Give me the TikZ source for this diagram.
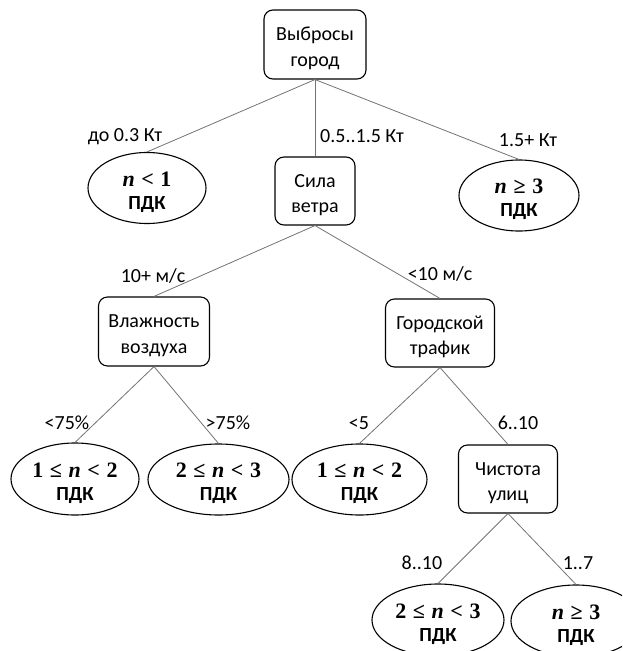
\documentclass[tikz,border=0pt]{standalone}
\usepackage{fontspec}
\setmainfont{Carlito}
\newfontfamily\mathlikefont{Liberation Serif}
\usetikzlibrary{shapes.geometric}
\newcommand{\rsp}{\hspace{0.3em}}
\newcommand{\mth}[1]{{\fontsize{22}{23}\selectfont\mathlikefont\bfseries #1}}
\newcommand{\vn}{\textit{n}}
\begin{document}
\begin{tikzpicture}[x=1pt,y=-1pt,
  box/.style={draw=black, line width=1.1pt, rounded corners=9pt, inner sep=0pt},
  boxtext/.style={align=center, inner sep=0pt, font=\fontsize{20}{25.5}\selectfont, yshift=-4pt},
  leaf/.style={ellipse, draw=black, line width=1.1pt, inner sep=0pt},
  leaftext/.style={align=center, inner sep=0pt, font=\fontsize{20}{23}\selectfont\bfseries, yshift=-4pt},
  conn/.style={draw=black!55, line width=0.8pt},
  lbl/.style={font=\fontsize{20}{24}\selectfont, inner sep=0pt}]
\useasboundingbox (0,0) rectangle (622,651);
\clip (0,0) rectangle (622,651);
% shapes
\node[box, minimum width=102pt, minimum height=69pt] (root) at (315,44.5) {};
\node[leaf, minimum width=118pt, minimum height=71pt] (a) at (147,188) {};
\node[box, minimum width=80pt, minimum height=68pt] (wind) at (315,191) {};
\node[leaf, minimum width=120pt, minimum height=71pt] (c) at (519,195.5) {};
\node[box, minimum width=111pt, minimum height=69pt] (hum) at (154,331.5) {};
\node[box, minimum width=109pt, minimum height=68pt] (traf) at (440,333) {};
\node[leaf, minimum width=128pt, minimum height=72pt] (e1) at (75,479) {};
\node[leaf, minimum width=141pt, minimum height=71pt] (e2) at (218.5,479.5) {};
\node[leaf, minimum width=135pt, minimum height=71pt] (e3) at (359.5,479.5) {};
\node[box, minimum width=99pt, minimum height=68pt] (clean) at (508,479) {};
\node[leaf, minimum width=132pt, minimum height=72pt] (e4) at (438,620) {};
\node[leaf, minimum width=130pt, minimum height=72pt] (e5) at (576,621) {};
% texts
\node[boxtext] (roott) at (root.center) {Выбросы\\город};
\node[boxtext] (windt) at (wind.center) {Сила\\ветра};
\node[boxtext] (humt) at (hum.center) {Влажность\\воздуха};
\node[boxtext] (traft) at (traf.center) {Городской\\трафик};
\node[boxtext] (cleant) at (clean.center) {Чистота\\улиц};
\node[leaftext] (at) at (a.center) {\mth{\vn\rsp<\rsp1}\\ПДК};
\node[leaftext] (ct) at (c.center) {\mth{\vn\rsp≥\rsp3}\\ПДК};
\node[leaftext] (e1t) at (e1.center) {\mth{1\rsp≤\rsp\vn\rsp<\rsp2}\\ПДК};
\node[leaftext] (e2t) at (e2.center) {\mth{2\rsp≤\rsp\vn\rsp<\rsp3}\\ПДК};
\node[leaftext] (e3t) at (e3.center) {\mth{1\rsp≤\rsp\vn\rsp<\rsp2}\\ПДК};
\node[leaftext] (e4t) at (e4.center) {\mth{2\rsp≤\rsp\vn\rsp<\rsp3}\\ПДК};
\node[leaftext] (e5t) at (e5.center) {\mth{\vn\rsp≥\rsp3}\\ПДК};
% connectors
\draw[conn] (root.south) -- (a.north);
\draw[conn] (root.south) -- (wind.north);
\draw[conn] (root.south) -- (c.north);
\draw[conn] (wind.south) -- (hum.north);
\draw[conn] (wind.south) -- (traf.north);
\draw[conn] (hum.south) -- (e1.north);
\draw[conn] (hum.south) -- (e2.north);
\draw[conn] (traf.south) -- (e3.north);
\draw[conn] (traf.south) -- (clean.north);
\draw[conn] (clean.south) -- (e4.north);
\draw[conn] (clean.south) -- (e5.north);
% labels
\node[lbl] (l1) at (125,137) {до 0.3 Кт};
\node[lbl] (l2) at (362,136) {0.5..1.5 Кт};
\node[lbl] (l3) at (528,140) {1.5+ Кт};
\node[lbl] (l4) at (153,276) {10+ м/с};
\node[lbl] (l5) at (440,274) {<10 м/с};
\node[lbl] (l6) at (67,423) {<75\%};
\node[lbl] (l7) at (228,423) {>75\%};
\node[lbl] (l8) at (359,423) {<5};
\node[lbl] (l9) at (518,423) {6..10};
\node[lbl] (l10) at (422,563) {8..10};
\node[lbl] (l11) at (578,563) {1..7};
\end{tikzpicture}
\end{document}
